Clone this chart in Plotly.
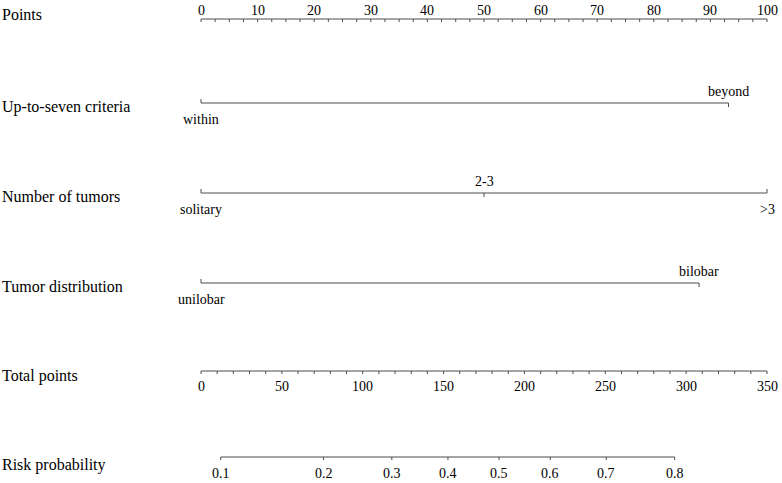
import numpy as np
import plotly.graph_objects as go

points_major = [0, 10, 20, 30, 40, 50, 60, 70, 80, 90, 100]
points_minor = list(np.arange(0, 100.01, 2.5))

criteria_labels = ["within", "beyond"]
criteria_points = [0, 93.2]

tumors_labels = ["solitary", "2-3", ">3"]
tumors_points = [0, 50, 100]

distrib_labels = ["unilobar", "bilobar"]
distrib_points = [0, 88]

total_major = [0, 50, 100, 150, 200, 250, 300, 350]
total_minor = list(range(0, 351, 10))
total_max = 350

risk_labels = ["0.1", "0.2", "0.3", "0.4", "0.5", "0.6", "0.7", "0.8"]
risk_total = [12.2, 75.8, 118.0, 152.7, 184.3, 216.0, 250.6, 292.9]

row_names = ["Points", "Up-to-seven criteria", "Number of tumors",
             "Tumor distribution", "Total points", "Risk probability"]

# filas en pixeles (eje y invertido)
row_y = [19, 103, 193, 283, 371, 457]
name_y = [14, 107, 196, 286, 376, 465]

LINE = "#4d4d4d"
FONT = "Liberation Serif"

fig = go.Figure()
annots = []


def add_line(x0, x1, y):
    fig.add_trace(go.Scatter(x=[x0, x1], y=[y, y], mode="lines",
                             line=dict(color=LINE, width=1), hoverinfo="skip"))


def add_ticks(xs, y, length):
    tx, ty = [], []
    for v in xs:
        tx += [v, v, None]
        ty += [y, y + length, None]
    fig.add_trace(go.Scatter(x=tx, y=ty, mode="lines",
                             line=dict(color=LINE, width=1), hoverinfo="skip"))


def add_label(x, y, text, anchor):
    annots.append(dict(x=x, y=y, xref="x", yref="y", text=text, showarrow=False,
                       yanchor=anchor, xanchor="center", borderpad=0,
                       font=dict(family=FONT, size=14, color="black")))


# Points
add_line(0, 100, row_y[0])
add_ticks(points_minor, row_y[0], 3)
for v in points_major:
    add_label(v, row_y[0] - 9, str(v), "middle")

# variables categoricas: etiquetas alternas arriba/abajo
for labels, pts, y in [(criteria_labels, criteria_points, row_y[1]),
                       (tumors_labels, tumors_points, row_y[2]),
                       (distrib_labels, distrib_points, row_y[3])]:
    add_line(min(pts), max(pts), y)
    for i, (lab, p) in enumerate(zip(labels, pts)):
        above = (i % 2 == 1)
        add_ticks([p], y, 4 if above else -4)
        if above:
            add_label(p, y - 3, lab, "bottom")
        else:
            add_label(p, y + 8, lab, "top")

# Total points (mapeado a la escala 0-100)
scale = 100 / total_max
add_line(0, 100, row_y[4])
add_ticks([v * scale for v in total_minor], row_y[4], 3)
for v in total_major:
    add_label(v * scale, row_y[4] + 7, str(v), "top")

# Risk probability
risk_x = [v * scale for v in risk_total]
add_line(min(risk_x), max(risk_x), row_y[5])
add_ticks(risk_x, row_y[5], 3)
for lab, x in zip(risk_labels, risk_x):
    add_label(x, row_y[5] + 8, lab, "top")

for name, y in zip(row_names, name_y):
    annots.append(dict(x=0, y=y, xref="paper", yref="y", text=name, showarrow=False,
                       xanchor="left", yanchor="middle",
                       font=dict(family=FONT, size=16, color="black")))

# 0 puntos -> pixel 201, 100 puntos -> pixel 767
px_per_pt = (767 - 201) / 100
fig.update_layout(
    width=782, height=483,
    margin=dict(l=0, r=0, t=0, b=0),
    paper_bgcolor="white", plot_bgcolor="white",
    showlegend=False,
    annotations=annots,
    xaxis=dict(range=[-201 / px_per_pt, 100 + (782 - 767) / px_per_pt],
               visible=False, fixedrange=True),
    yaxis=dict(range=[483, 0], visible=False, fixedrange=True),
)

fig.write_html("out.html", config={"displayModeBar": False},
               post_script="document.body.style.margin='0';")
